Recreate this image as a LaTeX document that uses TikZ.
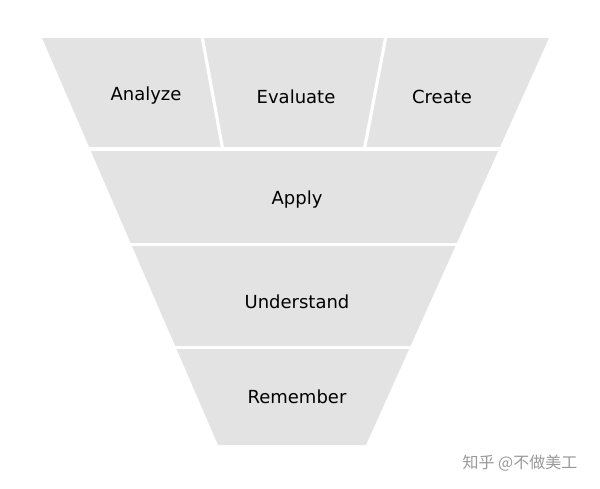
\documentclass[tikz,border=0pt]{standalone}
\usepackage{fontspec}
\setmainfont{DejaVu Sans}
\newfontfamily\cjkfont{Noto Sans CJK SC}
\definecolor{bandgray}{HTML}{E3E3E4}
\tikzset{
  band/.style  = {fill=bandgray},
  gap/.style   = {draw=white, line width=2.4pt},
  label/.style = {font=\fontsize{13.5}{16}\selectfont, text=black}
}
\begin{document}
\begin{tikzpicture}[x=0.75pt, y=-0.75pt]
\useasboundingbox (0,0) rectangle (600,489);

% the funnel
\fill[band] (42,38) -- (549,38) -- (366,445) -- (218,445) -- cycle;

% separators
\draw[gap] (60,149) -- (530,149);
\draw[gap] (100,244.5) -- (490,244.5);
\draw[gap] (150,347.5) -- (440,347.5);
\draw[gap] (202,36) -- (223,151);
\draw[gap] (386,36) -- (364,151);

% labels
\node[label] (analyze) at (146,96) {Analyze};
\node[label] (evaluate) at (296,97) {Evaluate};
\node[label] (create) at (442,97) {Create};
\node[label] (apply) at (297,200) {Apply};
\node[label] (understand) at (297,302) {Understand};
\node[label] (remember) at (297,397) {Remember};

\node[font=\cjkfont\fontsize{12}{14}\selectfont, text=gray!80] (mark) at (520,463) {知乎 @不做美工};
\end{tikzpicture}
\end{document}
